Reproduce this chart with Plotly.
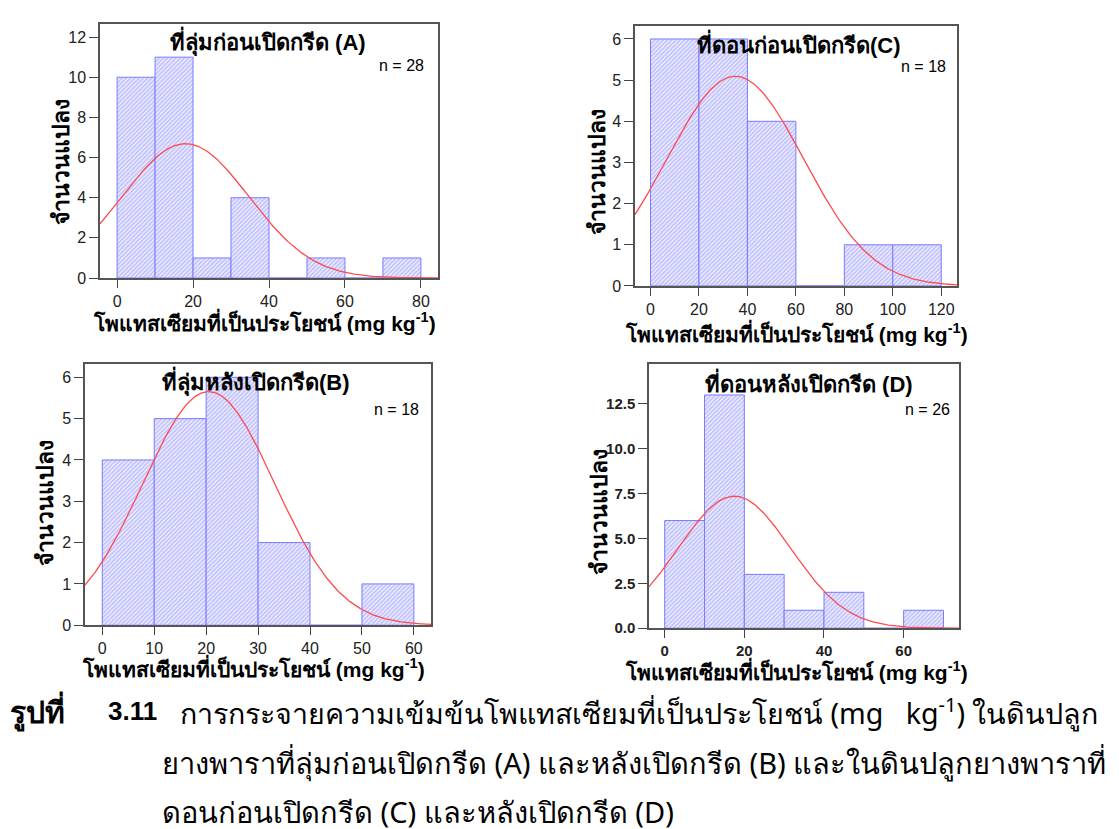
import numpy as np
import plotly.graph_objects as go

W, H = 1119, 829

# ---------------- data ----------------
bins_A = [0, 10, 20, 30, 40, 50, 60, 70]           # bin left edges
counts_A = [10, 11, 1, 4, 0, 1, 0, 1]
width_A = 10
mean_A, sd_A = 18.0, 16.7

bins_B = [0, 10, 20, 30, 40, 50]
counts_B = [4, 5, 6, 2, 0, 1]
width_B = 10
mean_B, sd_B = 20.5, 12.7

bins_C = [0, 20, 40, 60, 80, 100]
counts_C = [6, 6, 4, 0, 1, 1]
width_C = 20
mean_C, sd_C = 35.0, 28.2

bins_D = [0, 10, 20, 30, 40, 50, 60]
counts_D = [6, 13, 3, 1, 2, 0, 1]
width_D = 10
mean_D, sd_D = 17.5, 14.1

titles = {
    "A": "ที่ลุ่มก่อนเปิดกรีด (A)",
    "B": "ที่ลุ่มหลังเปิดกรีด(B)",
    "C": "ที่ดอนก่อนเปิดกรีด(C)",
    "D": "ที่ดอนหลังเปิดกรีด (D)",
}
xlabel = "โพแทสเซียมที่เป็นประโยชน์ (mg kg<sup>-1</sup>)"
ylabel = "จำนวนแปลง"

# ---------------- layout geometry (pixels) ----------------
panels = {
    "A": dict(box=(92, 16, 430, 273), xr=(-4.5, 84.5), yr=(0, 12.66),
              xt=[0, 20, 40, 60, 80], yt=[0, 2, 4, 6, 8, 10, 12], fmt="d",
              data=(bins_A, counts_A, width_A, mean_A, sd_A)),
    "C": dict(box=(627, 18, 949, 281), xr=(-6.4, 126.5), yr=(0, 6.32),
              xt=[0, 20, 40, 60, 80, 100, 120], yt=[0, 1, 2, 3, 4, 5, 6], fmt="d",
              data=(bins_C, counts_C, width_C, mean_C, sd_C)),
    "B": dict(box=(77, 360, 423, 624), xr=(-3.33, 63.3), yr=(0, 6.32),
              xt=[0, 10, 20, 30, 40, 50, 60], yt=[0, 1, 2, 3, 4, 5, 6], fmt="d",
              data=(bins_B, counts_B, width_B, mean_B, sd_B)),
    "D": dict(box=(641, 360, 951, 627), xr=(-3.94, 73.9), yr=(0, 14.72),
              xt=[0, 20, 40, 60], yt=[0, 2.5, 5, 7.5, 10, 12.5], fmt=".1f",
              data=(bins_D, counts_D, width_D, mean_D, sd_D)),
}

title_pos = {"A": (260, 34), "C": (791, 36), "B": (248, 378), "D": (801, 379)}
n_pos = {"A": (418, 58), "C": (940, 59), "B": (413, 406), "D": (944, 406)}
xlab_pos = {"A": (256, 317), "C": (788, 328), "B": (245, 667), "D": (788, 670)}
ylab_pos = {"A": (53, 156), "C": (589, 166), "B": (37, 500), "D": (591, 510)}

FONT = "Liberation Sans, Arial, Noto Sans, sans-serif"

def px(x):
    return x / W

def py(y):
    return 1 - y / H

fig = go.Figure()
annotations = []
layout = {}

for i, (name, p) in enumerate(panels.items()):
    idx = "" if i == 0 else str(i + 1)
    xa, ya = "x" + idx, "y" + idx
    bins, counts, bw, mu, sd = p["data"]
    centers = [b + bw / 2 for b in bins]
    fig.add_trace(go.Bar(
        x=centers, y=counts, width=bw, xaxis=xa, yaxis=ya,
        marker=dict(color="#eeeeff",
                    line=dict(color="#7a7aff", width=1),
                    pattern=dict(shape="/", fgcolor="#8c8cff", bgcolor="#eeeeff",
                                 size=3, solidity=0.5)),
        showlegend=False, hoverinfo="skip"))
    n = sum(counts)
    xs = np.linspace(p["xr"][0], p["xr"][1], 300)
    ys = n * bw * np.exp(-0.5 * ((xs - mu) / sd) ** 2) / (sd * np.sqrt(2 * np.pi))
    fig.add_trace(go.Scatter(x=xs, y=ys, mode="lines", xaxis=xa, yaxis=ya,
                             line=dict(color="#ff4a4a", width=1.3),
                             showlegend=False, hoverinfo="skip"))
    l, t, r, b = p["box"]
    bold_ticks = p["fmt"] != "d"
    tickfont = dict(family=FONT, size=16 if not bold_ticks else 15, color="#222")
    ytext = [(f"<b>{v:.1f}</b>" if bold_ticks else str(v)) for v in p["yt"]]
    xtext = [(f"<b>{v}</b>" if bold_ticks else str(v)) for v in p["xt"]]
    layout["xaxis" + idx] = dict(
        domain=[px(l), px(r)], range=list(p["xr"]), anchor=ya,
        tickvals=p["xt"], ticktext=xtext, ticks="outside", ticklen=8,
        tickcolor="#444", showline=True, linecolor="#555", linewidth=1.5,
        mirror=True, showgrid=False, zeroline=False, tickfont=tickfont)
    layout["yaxis" + idx] = dict(
        domain=[py(b), py(t)], range=list(p["yr"]), anchor=xa,
        tickvals=p["yt"], ticktext=ytext, ticks="outside", ticklen=9,
        tickcolor="#444", showline=True, linecolor="#555", linewidth=1.5,
        mirror=True, showgrid=False, zeroline=False, tickfont=tickfont)

    tx, ty = title_pos[name]
    annotations.append(dict(x=px(tx), y=py(ty), xref="paper", yref="paper",
                            text=f"<b>{titles[name]}</b>", showarrow=False,
                            xanchor="center", yanchor="middle",
                            font=dict(family=FONT, size=22, color="#000")))
    nx, ny = n_pos[name]
    annotations.append(dict(x=px(nx), y=py(ny), xref="paper", yref="paper",
                            text=f"n = {n}", showarrow=False,
                            xanchor="right", yanchor="middle",
                            font=dict(family=FONT, size=16, color="#000")))
    lx, ly = xlab_pos[name]
    annotations.append(dict(x=px(lx), y=py(ly), xref="paper", yref="paper",
                            text=f"<b>{xlabel}</b>", showarrow=False,
                            xanchor="center", yanchor="middle",
                            font=dict(family=FONT, size=21, color="#000")))
    yx, yy = ylab_pos[name]
    annotations.append(dict(x=px(yx), y=py(yy), xref="paper", yref="paper",
                            text=f"<b>{ylabel}</b>", showarrow=False, textangle=-90,
                            xanchor="center", yanchor="middle",
                            font=dict(family=FONT, size=23, color="#000")))

# ---------------- caption ----------------
CAP = "Liberation Sans Narrow, Noto Sans, sans-serif"
cap_lines = [
    "การกระจายความเข้มข้นโพแทสเซียมที่เป็นประโยชน์ (mg   kg<sup>-1</sup>) ในดินปลูก",
    "ยางพาราที่ลุ่มก่อนเปิดกรีด (A) และหลังเปิดกรีด (B) และในดินปลูกยางพาราที่",
    "ดอนก่อนเปิดกรีด (C) และหลังเปิดกรีด (D)",
]
cap_x = [170, 152, 152]
cap_y = [711, 763, 812]
cap_size = [28.6, 29, 29]
annotations.append(dict(x=px(0), y=py(cap_y[0]), xref="paper", yref="paper",
                        text="<b>รูปที่</b>", showarrow=False, xanchor="left",
                        yanchor="middle", font=dict(family=CAP, size=30, color="#000")))
annotations.append(dict(x=px(98), y=py(cap_y[0]), xref="paper", yref="paper",
                        text="<b>3.11</b>", showarrow=False, xanchor="left",
                        yanchor="middle", font=dict(family=FONT, size=26, color="#000")))
for txt, xx, yy, ss in zip(cap_lines, cap_x, cap_y, cap_size):
    annotations.append(dict(x=px(xx), y=py(yy), xref="paper", yref="paper",
                            text=txt, showarrow=False, xanchor="left",
                            yanchor="middle", font=dict(family=CAP, size=ss, color="#000")))

fig.update_layout(
    width=W, height=H, margin=dict(l=0, r=0, t=0, b=0),
    paper_bgcolor="white", plot_bgcolor="white",
    barmode="overlay", annotations=annotations, **layout)

fig.write_html("out.html")
